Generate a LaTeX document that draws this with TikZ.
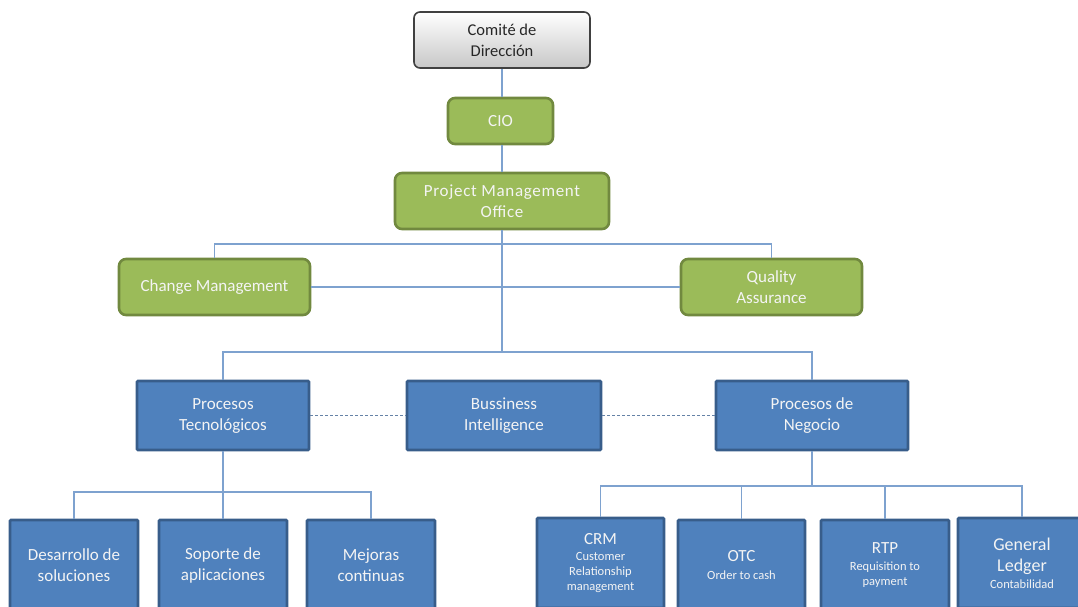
\documentclass[tikz,border=0pt]{standalone}
\usepackage{fontspec}
\setmainfont{Carlito}
\usepackage{tikz}
\usetikzlibrary{positioning}

\definecolor{greenfill}{HTML}{9BBB59}
\definecolor{greenline}{HTML}{71893F}
\definecolor{bluefill}{HTML}{4F81BD}
\definecolor{blueline}{HTML}{385D8A}
\definecolor{linkcol}{HTML}{7EA2CF}
\definecolor{txtcol}{HTML}{F4F4F4}

\newcommand{\sm}[1]{{\fontsize{12.5}{15}\selectfont #1}}

\tikzset{
  topbox/.style={draw=black!75,line width=1.6pt,rounded corners=6pt,top color=white,bottom color=black!22,
    align=center,text=black!85,font=\fontsize{16.5}{21}\selectfont,inner sep=0pt},
  greenbox/.style={draw=greenline,line width=2.6pt,fill=greenfill,rounded corners=7pt,
    align=center,text=txtcol,font=\fontsize{17}{21}\selectfont,inner sep=0pt},
  bluebox/.style={draw=blueline,line width=2.6pt,fill=bluefill,rounded corners=1pt,
    align=center,text=txtcol,font=\fontsize{17}{21}\selectfont,inner sep=0pt},
  link/.style={draw=linkcol,line width=1.6pt},
  dotlink/.style={draw=linkcol!80!black,line width=1.6pt,dash pattern=on 3pt off 2pt}
}

\begin{document}
\begin{tikzpicture}[line cap=butt,line join=miter,x=1pt,y=-1pt]
\useasboundingbox (0,0) rectangle (1078,606);
\clip (0,0) rectangle (1078,606);
% top of the chart
\node[topbox,minimum width=176pt,minimum height=56pt] (comite) at (502,40) {Comité de\\Dirección};
\node[greenbox,minimum width=105pt,minimum height=46pt] (cio) at (500.5,121) {CIO};
\node[greenbox,minimum width=214pt,minimum height=56pt,font=\fontsize{17}{21}\selectfont\addfontfeature{LetterSpace=4}] (pmo) at (502,201) {Project Management\\Office};
\node[greenbox,minimum width=191pt,minimum height=56pt] (cm) at (214.5,287) {Change Management};
\node[greenbox,minimum width=181pt,minimum height=56pt] (qa) at (771.5,287) {Quality\\Assurance};
% second level
\node[bluebox,minimum width=172pt,minimum height=69pt] (pt) at (223,415.5) {Procesos\\Tecnológicos};
\node[bluebox,minimum width=194pt,minimum height=69pt] (bi) at (504,415.5) {Bussiness\\Intelligence};
\node[bluebox,minimum width=192pt,minimum height=69pt] (pn) at (812,415.5) {Procesos de\\Negocio};
% third level
\node[bluebox,minimum width=128pt,minimum height=90pt] (des) at (74,565) {Desarrollo de\\soluciones};
\node[bluebox,minimum width=128pt,minimum height=90pt] (sop) at (223,565) {Soporte de\\aplicaciones};
\node[bluebox,minimum width=128pt,minimum height=90pt] (mej) at (371,565) {Mejoras\\continuas};
\node[bluebox,minimum width=127pt,minimum height=90pt] (crm) at (600.5,563) {CRM\\[-5pt]\sm{Customer}\\[-6pt]\sm{Relationship}\\[-6pt]\sm{management}};
\node[bluebox,minimum width=127pt,minimum height=90pt] (otc) at (741.5,565) {OTC\\[-3pt]\sm{Order to cash}};
\node[bluebox,minimum width=128pt,minimum height=90pt] (rtp) at (885,565) {RTP\\[-4pt]\sm{Requisition to}\\[-6pt]\sm{payment}};
\node[bluebox,minimum width=128pt,minimum height=90pt,font=\fontsize{18}{21}\selectfont] (gl) at (1022,563) {General\\Ledger\\[-4pt]\sm{Contabilidad}};
% bars
\coordinate (bar2) at (502,244);
\coordinate (bar3) at (502,352);
\coordinate (bar4) at (223,492);
\coordinate (bar5) at (812,486);
% connectors
\draw[link] (comite.south) -- (comite.south |- cio.north);
\draw[link] (comite.south |- cio.south) -- (comite.south |- pmo.north);
\draw[link] (pmo.south) -- (bar3);
\draw[link] (cm.north) |- (bar2) -| (qa.north);
\draw[link] (cm.east) -- (qa.west);
\draw[link] (pt.north) |- (bar3) -| (pn.north);
\draw[dotlink] (pt.east) -- (bi.west);
\draw[dotlink] (bi.east) -- (pn.west);
\draw[link] (pt.south) -- (sop.north);
\draw[link] (des.north) |- (bar4) -| (mej.north);
\draw[link] (pn.south) -- (bar5);
\draw[link] (crm.north) |- (bar5) -| (gl.north);
\draw[link] (otc.north) -- (otc.north |- bar5);
\draw[link] (rtp.north) -- (rtp.north |- bar5);
\end{tikzpicture}
\end{document}
